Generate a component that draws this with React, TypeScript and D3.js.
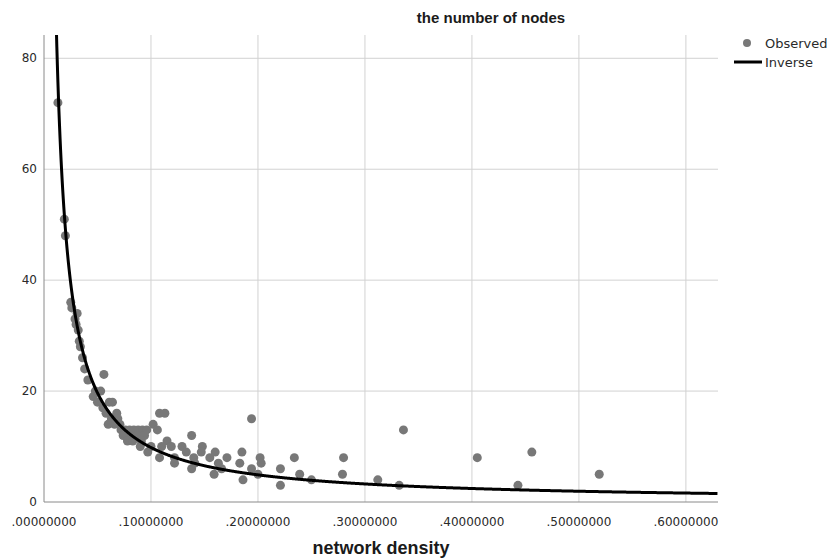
import { useEffect, useRef } from "react"
import * as d3 from "d3"

// observed points: network density vs number of nodes
const DENSITY = [
    0.013, 0.019, 0.020, 0.025, 0.026, 0.031, 0.029, 0.030, 0.032, 0.033,
    0.034, 0.036, 0.038, 0.041, 0.056, 0.048, 0.046, 0.053, 0.050, 0.055,
    0.061, 0.064, 0.058, 0.068, 0.069, 0.063, 0.066, 0.060, 0.071, 0.072,
    0.076, 0.080, 0.084, 0.088, 0.092, 0.096, 0.074, 0.080, 0.087, 0.094,
    0.078, 0.083, 0.091, 0.090, 0.097, 0.100, 0.102, 0.106, 0.108, 0.113,
    0.108, 0.110, 0.115, 0.119, 0.122, 0.122, 0.129, 0.133, 0.138, 0.138,
    0.140, 0.141, 0.148, 0.147, 0.155, 0.160, 0.159, 0.163, 0.166, 0.171,
    0.185, 0.183, 0.186, 0.194, 0.194, 0.202, 0.203, 0.200, 0.221, 0.221,
    0.234, 0.239, 0.250, 0.280, 0.279, 0.312, 0.332, 0.336, 0.405, 0.456,
    0.443, 0.519
]
const NODES = [
    72, 51, 48, 36, 35, 34, 33, 32, 31, 29,
    28, 26, 24, 22, 23, 20, 19, 20, 18, 17,
    18, 18, 16, 16, 15, 15, 14, 14, 14, 13,
    13, 13, 13, 13, 13, 13, 12, 12, 12, 12,
    11, 11, 11, 10, 9, 10, 14, 13, 16, 16,
    8, 10, 11, 10, 7, 8, 10, 9, 12, 6,
    8, 7, 10, 9, 8, 9, 5, 7, 6, 8,
    9, 7, 4, 15, 6, 8, 7, 5, 6, 3,
    8, 5, 4, 8, 5, 4, 3, 13, 8, 9,
    3, 5
]
// inverse model fit: y = b0 + b1 / x
const B0 = -0.03
const B1 = 0.985

const X_TICKS = [0, 0.1, 0.2, 0.3, 0.4, 0.5, 0.6]
const Y_TICKS = [0, 20, 40, 60, 80]
const LEGEND = ["Observed", "Inverse"]

const W = 832, H = 558
const LEFT = 44, RIGHT = 718, TOP = 35, BOTTOM = 502
const FONT = "'DejaVu Sans', sans-serif"
const BOLD_FONT = "'Liberation Sans', Arial, sans-serif"

export default function App() {
    const svgRef = useRef<SVGSVGElement>(null)

    useEffect(() => {
        const svg = d3.select(svgRef.current)
        svg.selectAll("*").remove()

        const x = d3.scaleLinear().domain([0, 0.63]).range([LEFT, RIGHT])
        const y = d3.scaleLinear().domain([0, 84.2]).range([BOTTOM, TOP])

        // grid
        svg.append("g").selectAll("line")
            .data(X_TICKS.slice(1))
            .join("line")
            .attr("x1", d => x(d)).attr("x2", d => x(d))
            .attr("y1", TOP).attr("y2", BOTTOM)
            .attr("stroke", "#d2d2d2").attr("stroke-width", 1)
        svg.append("g").selectAll("line")
            .data(Y_TICKS.slice(1))
            .join("line")
            .attr("x1", LEFT).attr("x2", RIGHT)
            .attr("y1", d => y(d)).attr("y2", d => y(d))
            .attr("stroke", "#d2d2d2").attr("stroke-width", 1)

        // axes lines
        svg.append("line")
            .attr("x1", LEFT).attr("x2", LEFT).attr("y1", TOP).attr("y2", BOTTOM)
            .attr("stroke", "#8a8a8a")
        svg.append("line")
            .attr("x1", LEFT).attr("x2", RIGHT).attr("y1", BOTTOM).attr("y2", BOTTOM)
            .attr("stroke", "#8a8a8a")

        // tick labels
        svg.append("g").selectAll("text")
            .data(Y_TICKS)
            .join("text")
            .attr("x", LEFT - 7).attr("y", d => y(d))
            .attr("dy", "0.35em")
            .attr("text-anchor", "end")
            .attr("font-family", FONT).attr("font-size", 12).attr("fill", "#2a2a2a")
            .text(d => d3.format("d")(d))
        svg.append("g").selectAll("text")
            .data(X_TICKS)
            .join("text")
            .attr("x", d => x(d)).attr("y", BOTTOM + 24)
            .attr("text-anchor", "middle")
            .attr("font-family", FONT).attr("font-size", 12).attr("fill", "#2a2a2a")
            .text(d => d3.format(".8f")(d).replace(/^0/, ""))

        // observed points
        const pts = DENSITY.map((d, i) => [d, NODES[i]])
        svg.append("g").selectAll("circle")
            .data(pts)
            .join("circle")
            .attr("cx", d => x(d[0])).attr("cy", d => y(d[1]))
            .attr("r", 4.5)
            .attr("fill", "#787878")

        // inverse curve
        const clip = svg.append("clipPath").attr("id", "plotclip")
        clip.append("rect").attr("x", LEFT).attr("y", TOP)
            .attr("width", RIGHT - LEFT).attr("height", BOTTOM - TOP)
        const xs = d3.range(0.0105, 0.63, 0.0005)
        svg.append("path")
            .datum(xs)
            .attr("clip-path", "url(#plotclip)")
            .attr("fill", "none")
            .attr("stroke", "#000")
            .attr("stroke-width", 3)
            .attr("d", d3.line<number>()
                .x(d => x(d))
                .y(d => y(B0 + B1 / d))
                .curve(d3.curveMonotoneX))

        // title + axis label
        svg.append("text")
            .attr("x", 491).attr("y", 23)
            .attr("text-anchor", "middle")
            .attr("font-family", BOLD_FONT)
            .attr("font-weight", "bold").attr("font-size", 15).attr("fill", "#1a1a1a")
            .text("the number of nodes")
        svg.append("text")
            .attr("x", (LEFT + RIGHT) / 2).attr("y", 554)
            .attr("text-anchor", "middle")
            .attr("font-family", BOLD_FONT)
            .attr("font-weight", "bold").attr("font-size", 18).attr("fill", "#1a1a1a")
            .text("network density")

        // legend
        const lg = svg.append("g")
        lg.append("circle").attr("cx", 747).attr("cy", 43).attr("r", 4).attr("fill", "#787878")
        lg.append("line").attr("x1", 734).attr("x2", 762).attr("y1", 62).attr("y2", 62)
            .attr("stroke", "#000").attr("stroke-width", 3)
        lg.selectAll("text")
            .data(LEGEND)
            .join("text")
            .attr("x", 765).attr("y", (d, i) => 43 + i * 19)
            .attr("dy", "0.35em")
            .attr("font-family", FONT).attr("font-size", 13).attr("fill", "#2a2a2a")
            .text(d => d)
    }, [])

    return (
        <svg ref={svgRef} width={W} height={H}
            style={{ position: "absolute", left: 0, top: 0, background: "#fff" }} />
    )
}
